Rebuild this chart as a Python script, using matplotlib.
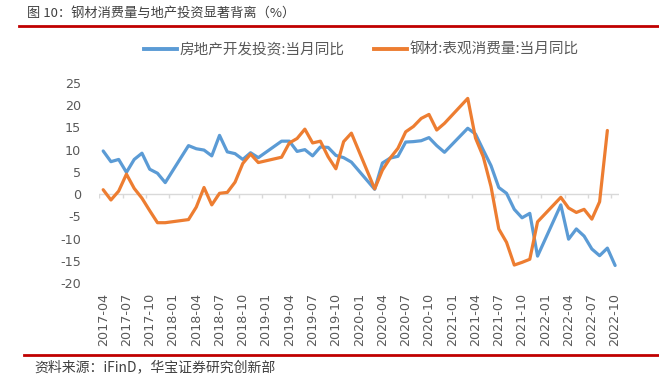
import numpy as np
import pandas as pd
import matplotlib
matplotlib.use("Agg")
import matplotlib.pyplot as plt
from matplotlib.lines import Line2D

plt.rcParams['font.family'] = ['Noto Sans CJK SC', 'DejaVu Sans']

N = None
months = list(pd.period_range('2017-04', '2022-10', freq='M').strftime('%Y-%m'))

# 房地产开发投资:当月同比 (%)
invest = [9.7, 7.3, 7.8, 4.9, 7.8, 9.2, 5.6, 4.7, 2.6,
          N, N, 10.9, 10.2, 9.9, 8.6, 13.2, 9.5, 9.1, 7.8, 9.3, 8.2,
          N, N, 11.9, 11.9, 9.6, 10.0, 8.6, 10.6, 10.5, 8.7, 8.2, 7.2,
          N, N, 1.1, 7.0, 8.1, 8.5, 11.7, 11.8, 12.0, 12.7, 10.9, 9.4,
          N, N, 14.8, 13.5, 9.9, 6.4, 1.5, 0.2, -3.4, -5.3, -4.3, -13.9,
          N, N, -2.4, -10.1, -7.8, -9.4, -12.3, -13.8, -12.1, -16.0]

# 钢材:表观消费量:当月同比 (%)
steel = [1.0, -1.3, 0.7, 4.5, 1.3, -0.9, -3.7, -6.4, -6.4,
         N, N, -5.7, -2.9, 1.5, -2.4, 0.2, 0.4, 2.7, 6.9, 9.0, 7.1,
         N, N, 8.3, 11.5, 12.5, 14.6, 11.5, 11.9, 8.4, 5.7, 11.8, 13.7,
         N, N, 1.2, 5.4, 8.1, 10.3, 14.0, 15.2, 17.0, 17.9, 14.4, 15.9,
         N, N, 21.5, 12.6, 8.4, 1.7, -7.8, -10.8, -15.9, -15.3, -14.6, -6.2,
         N, N, -0.7, -3.1, -4.1, -3.4, -5.6, -1.7, 14.3, N]

series_names = ['房地产开发投资:当月同比', '钢材:表观消费量:当月同比']
colors = ['#5B9BD5', '#ED7D31']
yticks = [-20, -15, -10, -5, 0, 5, 10, 15, 20, 25]

W, H = 659, 377
fig = plt.figure(figsize=(W / 100, H / 100), dpi=100)

def fx(px):
    return px / W

def fy(py):
    return 1 - py / H

ax = fig.add_axes([fx(99.3), fy(283.3), fx(619) - fx(99.3), fy(82.8) - fy(283.3)])

x = np.arange(len(months))
for vals, c in zip([invest, steel], colors):
    v = np.array([np.nan if a is None else a for a in vals], dtype=float)
    m = ~np.isnan(v)
    ax.plot(x[m], v[m], color=c, lw=2.3, solid_joinstyle='round', solid_capstyle='round')

ax.set_xlim(-0.5, len(months) - 0.5)
ax.set_ylim(-20, 25)
ax.set_yticks(yticks)
ax.set_yticklabels([str(t) for t in yticks])
tick_idx = np.arange(0, len(months), 3)
ax.set_xticks(tick_idx)
ax.set_xticklabels([months[i] for i in tick_idx], rotation=90, va='top', ha='center')
ax.tick_params(axis='both', length=0, colors='#595959', labelsize=9.2,
               labelfontfamily='DejaVu Sans')
ax.tick_params(axis='y', pad=13)
ax.tick_params(axis='x', pad=7)
for s in ax.spines.values():
    s.set_visible(False)

# zero axis with category tick marks
ax.axhline(0, color='#D9D9D9', lw=1.0, zorder=0)
ax.vlines(np.arange(-0.5, len(months), 3), -0.75, 0, color='#D9D9D9', lw=1.0, zorder=0)

# legend
handles = [Line2D([], [], color=c, lw=2.8) for c in colors]
fig.legend(handles, series_names, loc='center', bbox_to_anchor=(fx(361), fy(50)),
           ncol=2, frameon=False, fontsize=10.5, handlelength=2.3,
           handletextpad=0.15, columnspacing=2.0, labelcolor='#595959',
           prop={'family': ['Noto Sans CJK SC'], 'size': 10.5})

# title & footer
fig.text(fx(27), fy(13), '图 10：钢材消费量与地产投资显著背离（%）', fontsize=9.5,
         color='#404040', va='center', ha='left')
fig.add_artist(Line2D([fx(19), 1.0], [fy(25.5), fy(25.5)], color='#C00000', lw=2.0))
fig.add_artist(Line2D([fx(24), 1.0], [fy(355), fy(355)], color='#C00000', lw=2.0))
fig.text(fx(34), fy(367), '资料来源：iFinD，华宝证券研究创新部', fontsize=10,
         color='#404040', va='center', ha='left')

fig.savefig('out.png', dpi=100)
